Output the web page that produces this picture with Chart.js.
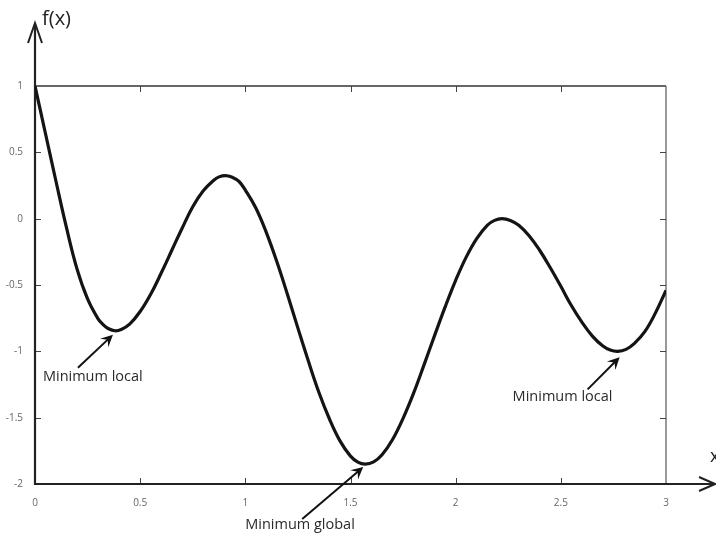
<!DOCTYPE html>
<html><head><meta charset="utf-8">
<script src="https://cdn.jsdelivr.net/npm/chart.js@4.4.1/dist/chart.umd.min.js"></script>
<style>html,body{margin:0;padding:0;background:#fff}canvas{display:block}</style>
</head><body>
<canvas id="c" width="716" height="535"></canvas>
<script>
// ---- data ----
const xValues = [0,0.05,0.1,0.15,0.2,0.25,0.3,0.325,0.35,0.38,0.41,0.45,0.5,0.55,0.6,0.65,0.7,0.75,0.8,0.85,0.875,0.905,0.935,0.97,1.0,1.05,1.1,1.15,1.2,1.25,1.3,1.35,1.4,1.45,1.5,1.535,1.57,1.61,1.65,1.7,1.75,1.8,1.85,1.9,1.95,2.0,2.05,2.1,2.15,2.185,2.22,2.26,2.3,2.35,2.4,2.45,2.5,2.55,2.6,2.65,2.7,2.735,2.77,2.81,2.85,2.9,2.95,3.0];
const fValues = [1.0,0.64,0.28,-0.07,-0.38,-0.605,-0.755,-0.80,-0.83,-0.845,-0.835,-0.795,-0.70,-0.57,-0.41,-0.24,-0.07,0.09,0.21,0.29,0.315,0.325,0.314,0.28,0.215,0.08,-0.105,-0.325,-0.57,-0.825,-1.075,-1.31,-1.51,-1.675,-1.79,-1.835,-1.85,-1.833,-1.78,-1.665,-1.505,-1.315,-1.10,-0.88,-0.665,-0.465,-0.29,-0.15,-0.05,-0.013,0.0,-0.013,-0.05,-0.13,-0.24,-0.37,-0.51,-0.655,-0.78,-0.885,-0.96,-0.99,-1.0,-0.985,-0.94,-0.85,-0.71,-0.54];
const xTicks = [0,0.5,1,1.5,2,2.5,3];
const yTicks = [1,0.5,0,-0.5,-1,-1.5,-2];
const annotLabels = ['Minimum local','Minimum global','Minimum local'];
const annotX = [0.38,1.57,2.77];
const annotY = [-0.845,-1.85,-1.0];
const yAxisTitle = 'f(x)';
const xAxisTitle = 'x';

// ---- styling of annotations (pixel offsets from the marked point) ----
const annotStyle = [
  {tip:[-2,4], tail:[-37,37], text:[-72,46]},
  {tip:[-2,3], tail:[-63,55], text:[-120,61]},
  {tip:[2,6], tail:[-30,38], text:[-105,46]}
];

function chevron(ctx, x1, y1, x2, y2, len, half){
  const a = Math.atan2(y2-y1, x2-x1);
  const bx = x2 - len*Math.cos(a), by = y2 - len*Math.sin(a);
  const px = -Math.sin(a)*half, py = Math.cos(a)*half;
  ctx.beginPath();
  ctx.moveTo(bx+px, by+py); ctx.lineTo(x2, y2); ctx.lineTo(bx-px, by-py);
  ctx.stroke();
}

const framePlugin = {
  id:'frame',
  beforeDatasetsDraw(chart){
    const {ctx, chartArea:ca, scales:{x, y}} = chart;
    ctx.save();
    ctx.lineCap = 'butt';
    ctx.strokeStyle = '#333'; ctx.lineWidth = 1.5;
    ctx.beginPath(); ctx.moveTo(ca.left, ca.top); ctx.lineTo(ca.right, ca.top); ctx.stroke();
    ctx.strokeStyle = '#555'; ctx.lineWidth = 1.2;
    ctx.beginPath(); ctx.moveTo(ca.right, ca.top); ctx.lineTo(ca.right, ca.bottom); ctx.stroke();
    ctx.strokeStyle = '#444'; ctx.lineWidth = 1;
    xTicks.forEach(v=>{
      if (v===x.min || v===x.max) return;
      const px = Math.round(x.getPixelForValue(v))+0.5;
      ctx.beginPath(); ctx.moveTo(px, ca.bottom); ctx.lineTo(px, ca.bottom-6); ctx.stroke();
      ctx.beginPath(); ctx.moveTo(px, ca.top); ctx.lineTo(px, ca.top+6); ctx.stroke();
    });
    yTicks.forEach(v=>{
      if (v===y.min || v===y.max) return;
      const py = Math.round(y.getPixelForValue(v))+0.5;
      ctx.beginPath(); ctx.moveTo(ca.left, py); ctx.lineTo(ca.left+6, py); ctx.stroke();
      ctx.beginPath(); ctx.moveTo(ca.right, py); ctx.lineTo(ca.right-6, py); ctx.stroke();
    });
    ctx.strokeStyle = '#222'; ctx.lineWidth = 2.2;
    ctx.beginPath(); ctx.moveTo(ca.left, ca.bottom+1); ctx.lineTo(ca.left, 24); ctx.stroke();
    ctx.beginPath(); ctx.moveTo(ca.left-1, ca.bottom); ctx.lineTo(714, ca.bottom); ctx.stroke();
    ctx.lineWidth = 2;
    chevron(ctx, ca.left, ca.bottom, ca.left, 23, 20, 7);
    chevron(ctx, ca.left, ca.bottom, 715, ca.bottom, 16, 7);
    ctx.fillStyle = '#222';
    ctx.font = '20px "Open Sans"';
    ctx.textBaseline = 'middle'; ctx.textAlign = 'left';
    ctx.fillText(yAxisTitle, 42, 19);
    ctx.font = '18px "Open Sans"';
    ctx.fillText(xAxisTitle, 710, 457);
    ctx.restore();
  },
  afterDraw(chart){
    const {ctx, scales:{x, y}} = chart;
    ctx.save();
    annotLabels.forEach((lab, i)=>{
      const px = x.getPixelForValue(annotX[i]), py = y.getPixelForValue(annotY[i]);
      const st = annotStyle[i];
      const tx = px+st.tip[0], ty = py+st.tip[1];
      const sx = px+st.tail[0], sy = py+st.tail[1];
      ctx.strokeStyle = '#111'; ctx.fillStyle = '#111'; ctx.lineWidth = 2;
      const a = Math.atan2(ty-sy, tx-sx);
      ctx.beginPath(); ctx.moveTo(sx, sy); ctx.lineTo(tx-6*Math.cos(a), ty-6*Math.sin(a)); ctx.stroke();
      const len = 12, half = 6;
      const bx = tx-len*Math.cos(a), by = ty-len*Math.sin(a);
      const nx = -Math.sin(a)*half, ny = Math.cos(a)*half;
      const mx = tx-0.6*len*Math.cos(a), my = ty-0.6*len*Math.sin(a);
      ctx.beginPath(); ctx.moveTo(tx, ty); ctx.lineTo(bx+nx, by+ny); ctx.lineTo(mx, my); ctx.lineTo(bx-nx, by-ny); ctx.closePath(); ctx.fill();
      ctx.fillStyle = '#2a2a2a';
      ctx.font = '14.5px "Open Sans"';
      ctx.textAlign = 'left'; ctx.textBaseline = 'middle';
      ctx.fillText(lab, px+st.text[0], py+st.text[1]);
    });
    ctx.restore();
  }
};

new Chart(document.getElementById('c'), {
  type:'line',
  data:{datasets:[{
    data: xValues.map((v,i)=>({x:v, y:fValues[i]})),
    borderColor:'#141414', borderWidth:3.2, pointRadius:0, fill:false,
    tension:0.4
  }]},
  options:{
    responsive:false, animation:false, devicePixelRatio:1,
    layout:{padding:{top:86, right:50, left:0, bottom:0}},
    plugins:{legend:{display:false}, tooltip:{enabled:false}},
    scales:{
      x:{type:'linear', min:0, max:3,
        afterBuildTicks:s=>{s.ticks = xTicks.map(v=>({value:v}));},
        afterFit:s=>{s.height = 51;},
        grid:{display:false}, border:{display:false},
        ticks:{font:{size:10, family:'Open Sans'}, color:'#666', padding:5, maxRotation:0, autoSkip:false, callback:v=>String(v)}},
      y:{type:'linear', min:-2, max:1,
        afterBuildTicks:s=>{s.ticks = yTicks.map(v=>({value:v}));},
        afterFit:s=>{s.width = 35;},
        grid:{display:false}, border:{display:false},
        ticks:{font:{size:10, family:'Open Sans'}, color:'#666', padding:4, autoSkip:false, callback:v=>String(v)}}
    }
  },
  plugins:[framePlugin]
});
</script>
</body></html>
